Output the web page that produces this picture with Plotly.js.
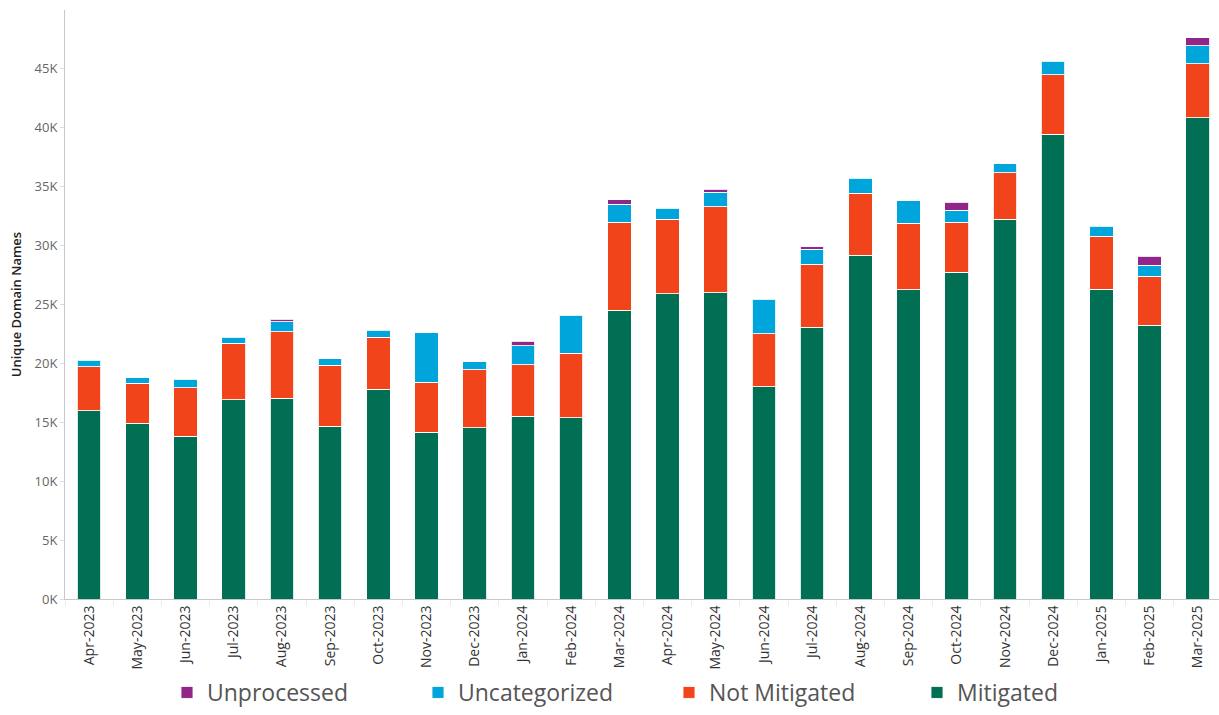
<!DOCTYPE html>
<html>
<head>
<meta charset="utf-8">
<script src="https://cdn.plot.ly/plotly-3.0.1.min.js"></script>
<style>html,body{margin:0;padding:0;background:#fff;}#chart{width:1219px;height:715px;}</style>
</head>
<body>
<div id="chart"></div>
<script>
const months = ["Apr-2023","May-2023","Jun-2023","Jul-2023","Aug-2023","Sep-2023","Oct-2023","Nov-2023","Dec-2023","Jan-2024","Feb-2024","Mar-2024","Apr-2024","May-2024","Jun-2024","Jul-2024","Aug-2024","Sep-2024","Oct-2024","Nov-2024","Dec-2024","Jan-2025","Feb-2025","Mar-2025"];
const mitigated = [16000,14900,13800,16900,17050,14650,17800,14150,14550,15500,15400,24500,25900,26000,18000,23050,29200,26250,27750,32250,39450,26300,23250,40850];
const notMitigated = [3700,3400,4150,4800,5650,5200,4400,4250,4900,4400,5450,7500,6350,7300,4500,5350,5250,5650,4250,3950,5050,4500,4150,4600];
const uncategorized = [550,500,700,500,850,550,600,4200,700,1600,3250,1500,900,1250,2950,1300,1250,1900,1000,750,1150,850,950,1500];
const unprocessed = [null,null,null,null,200,null,null,null,null,400,null,400,null,250,null,200,null,null,700,null,null,null,750,700];
const yTickVals = [0,5000,10000,15000,20000,25000,30000,35000,40000,45000];
const yTickText = ["0K","5K","10K","15K","20K","25K","30K","35K","40K","45K"];

const FONT = "Open Sans, Noto Sans, sans-serif";
const line = {color:"rgba(255,255,255,0.85)", width:1};
function tr(name, y, color, leg){
  return {type:"bar", name:name, x:months, y:y, marker:{color:color, line:line}, legend:leg, hoverinfo:"x+y+name"};
}
const data = [
  tr("Mitigated", mitigated, "#016f53", "legend4"),
  tr("Not Mitigated", notMitigated, "#f2441b", "legend3"),
  tr("Uncategorized", uncategorized, "#00a5db", "legend2"),
  tr("Unprocessed", unprocessed, "#912688", "legend")
];
function leg(xpx){
  return {orientation:"h", xref:"container", yref:"container", x:xpx/1219, y:1/715, xanchor:"left", yanchor:"bottom",
    font:{family:FONT, size:23, color:"#555"}, bgcolor:"rgba(0,0,0,0)", borderwidth:0};
}
const layout = {
  width:1219, height:715,
  margin:{l:65, r:0, t:10, b:116},
  paper_bgcolor:"#fff", plot_bgcolor:"#fff",
  barmode:"stack", bargap:0.51,
  font:{family:FONT, color:"#333"},
  showlegend:true,
  legend:leg(167), legend2:leg(418), legend3:leg(669), legend4:leg(917),
  xaxis:{type:"category", range:[-0.5,23.44], tickangle:-90, tickfont:{family:FONT, size:14, color:"#333"},
    showline:true, linecolor:"#c8c8c8", linewidth:1, ticks:"outside", tickson:"boundaries", ticklen:6, tickcolor:"#ebebeb",
    showgrid:false, zeroline:false, fixedrange:true},
  yaxis:{range:[0,50000], tickvals:yTickVals, ticktext:yTickText, tickfont:{family:FONT, size:13, color:"#666"},
    showline:true, linecolor:"#c8c8c8", linewidth:1, ticks:"outside", ticklen:4, tickcolor:"#dcdcdc",
    showgrid:false, zeroline:false, fixedrange:true,
    title:{text:"Unique Domain Names", font:{family:FONT, size:13, color:"#222", weight:600}, standoff:10}}
};
Plotly.newPlot("chart", data, layout, {displayModeBar:false, staticPlot:true});
</script>
</body>
</html>
